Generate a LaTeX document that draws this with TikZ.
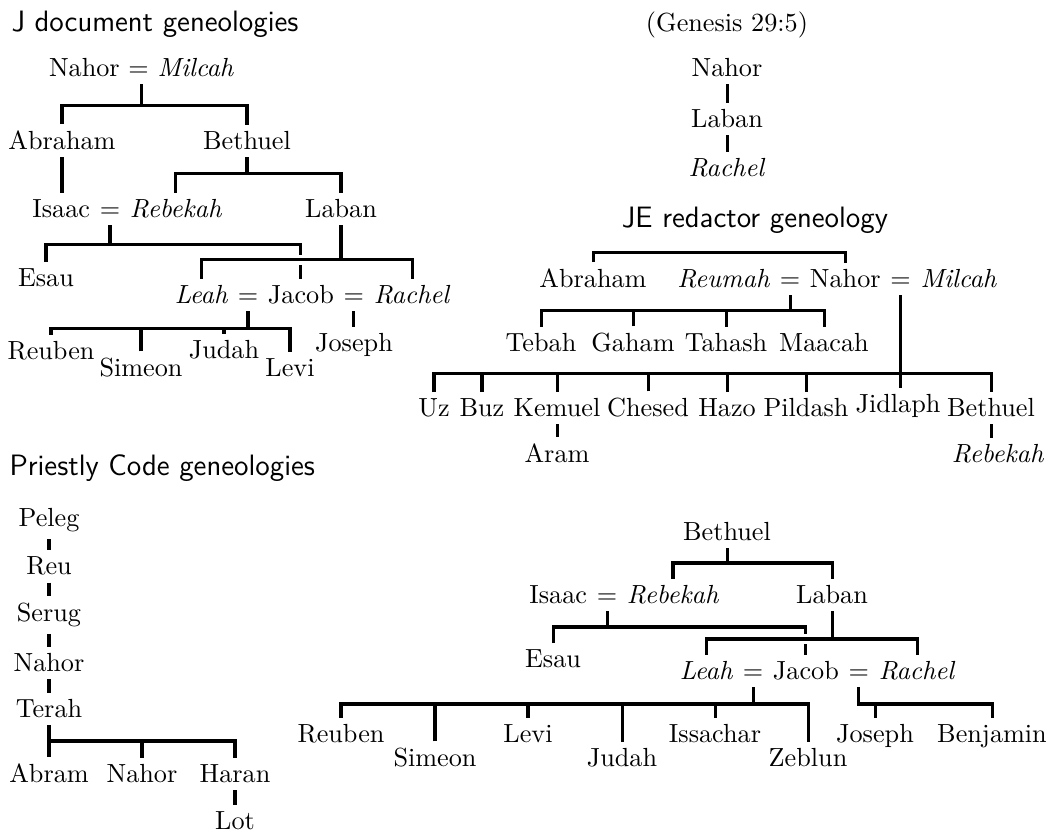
\documentclass[tikz,border=0pt]{standalone}
\begin{document}
\begin{tikzpicture}[x=0.381679pt, y=-0.381679pt,
  nm/.style={anchor=base, inner xsep=0pt, inner ysep=2.5pt},
  lft/.style={anchor=base east, inner xsep=0pt, inner ysep=2.5pt},
  rgt/.style={anchor=base west, inner xsep=0pt, inner ysep=2.5pt},
  ttl/.style={anchor=base west, inner sep=0pt, font=\sffamily\fontsize{11.25}{13}\selectfont},
  ln/.style={line width=1.15pt},
  gap/.style={preaction={draw=white, line width=3.6pt}}]
\useasboundingbox (0,0) rectangle (1048,834);

% ---------------- J document ----------------
\node[ttl] (tJ) at (11,32) {J document geneologies};
\node[nm] (jNM) at (141.5,77) {Nahor $=$ \textit{Milcah}};
\node[nm] (jAbraham) at (62,150) {Abraham};
\node[nm] (jBethuel) at (247,150) {Bethuel};
\node[nm] (jeqIR) at (110,218) {$=$};
\node[lft] (jIsaac) at ([xshift=-3.333pt]jeqIR.base west) {Isaac};
\node[rgt] (jRebekah) at ([xshift=3.333pt]jeqIR.base east) {\textit{Rebekah}};
\node[nm] (jLaban) at (341,218) {Laban};
\node[nm] (jEsau) at (46,287) {Esau};
\node[nm] (jeqLJ) at (248,304) {$=$};
\node[lft] (jLeah) at ([xshift=-3.333pt]jeqLJ.base west) {\textit{Leah}};
\node[rgt] (jJacob) at ([xshift=3.333pt]jeqLJ.base east) {Jacob};
\node[rgt] (jeqJR) at ([xshift=3.333pt]jJacob.base east) {$=$};
\node[rgt] (jRachel) at ([xshift=3.333pt]jeqJR.base east) {\textit{Rachel}};
\node[nm] (jReuben) at (51,360) {Reuben};
\node[nm] (jSimeon) at (141,377) {Simeon};
\node[nm] (jJudah) at (224,359) {Judah};
\node[nm] (jLevi) at (290,377) {Levi};
\node[nm] (jJoseph) at (354,352) {Joseph};

\draw[ln] (jAbraham.north) |- (jNM.south |- 0,106) -| (jBethuel.north)
          (jNM.south) -- (jNM.south |- 0,106);
\draw[ln] (jAbraham.south) -- (jAbraham.south |- jIsaac.north);
\draw[ln] (jRebekah.north) |- (jBethuel.south |- 0,174) -| (jLaban.north)
          (jBethuel.south) -- (jBethuel.south |- 0,174);
\draw[ln] (jEsau.north) |- (jeqIR.south |- 0,245) -| (jJacob.north)
          (jeqIR.south) -- (jeqIR.south |- 0,245);
\draw[ln,gap] (jLeah.north) |- (jLaban.south |- 0,260) -| (jRachel.north)
          (jLaban.south) -- (jLaban.south |- 0,260);
\draw[ln] (jReuben.north) |- (jeqLJ.south |- 0,329) -| (jLevi.north)
          (jeqLJ.south) -- (jeqLJ.south |- 0,329)
          (jSimeon.north) -- (jSimeon.north |- 0,329)
          (jJudah.north) -- (jJudah.north |- 0,329);
\draw[ln] (jeqJR.south) -- (jeqJR.south |- jJoseph.north);

% ---------------- Genesis 29:5 ----------------
\node[nm] (gTitle) at (727,32) {(Genesis 29:5)};
\node[nm] (gNahor) at (727,77) {Nahor};
\node[nm] (gLaban) at (727,128) {Laban};
\node[nm] (gRachel) at (727,177) {\textit{Rachel}};
\draw[ln] (gNahor.south) -- (gNahor.south |- gLaban.north);
\draw[ln] (gLaban.south) -- (gLaban.south |- gRachel.north);

% ---------------- JE redactor ----------------
\node[ttl, anchor=base] (tJE) at (755,228) {JE redactor geneology};
\node[nm] (jeAbraham) at (593,288) {Abraham};
\node[nm] (jeqRN) at (790,288) {$=$};
\node[lft] (jeReumah) at ([xshift=-3.333pt]jeqRN.base west) {\textit{Reumah}};
\node[rgt] (jeNahor) at ([xshift=3.333pt]jeqRN.base east) {Nahor};
\node[rgt] (jeqNM) at ([xshift=3.333pt]jeNahor.base east) {$=$};
\node[rgt] (jeMilcah) at ([xshift=3.333pt]jeqNM.base east) {\textit{Milcah}};
\node[nm] (jeTebah) at (541,352) {Tebah};
\node[nm] (jeGaham) at (633,352) {Gaham};
\node[nm] (jeTahash) at (726,352) {Tahash};
\node[nm] (jeMaacah) at (824,352) {Maacah};
\node[nm] (jeUz) at (434,417) {Uz};
\node[nm] (jeBuz) at (482,417) {Buz};
\node[nm] (jeKemuel) at (557,417) {Kemuel};
\node[nm] (jeChesed) at (648,417) {Chesed};
\node[nm] (jeHazo) at (727,417) {Hazo};
\node[nm] (jePildash) at (806,417) {Pildash};
\node[nm] (jeJidlaph) at (898,413) {Jidlaph};
\node[nm] (jeBethuel) at (991,417) {Bethuel};
\node[nm] (jeAram) at (557,463) {Aram};
\node[nm] (jeRebekah) at (998,463) {\textit{Rebekah}};

\draw[ln] (jeAbraham.north) -- (jeAbraham.north |- 0,253) -| (jeNahor.north);
\draw[ln] (jeTebah.north) |- (jeqRN.south |- 0,311) -| (jeMaacah.north)
          (jeqRN.south) -- (jeqRN.south |- 0,311)
          (jeGaham.north) -- (jeGaham.north |- 0,311)
          (jeTahash.north) -- (jeTahash.north |- 0,311);
\draw[ln] (jeUz.north) |- (jeqNM.south |- 0,374) -| (jeBethuel.north)
          (jeqNM.south) -- (jeqNM.south |- jeJidlaph.north)
          (jeBuz.north) -- (jeBuz.north |- 0,374)
          (jeKemuel.north) -- (jeKemuel.north |- 0,374)
          (jeChesed.north) -- (jeChesed.north |- 0,374)
          (jeHazo.north) -- (jeHazo.north |- 0,374)
          (jePildash.north) -- (jePildash.north |- 0,374);
\draw[ln] (jeKemuel.south) -- (jeKemuel.south |- jeAram.north);
\draw[ln] (jeBethuel.south) -- (jeBethuel.south |- jeRebekah.north);

% ---------------- Priestly Code ----------------
\node[ttl] (tP) at (9,476) {Priestly Code geneologies};
\node[nm] (pPeleg) at (49,527) {Peleg};
\node[nm] (pReu) at (49,575) {Reu};
\node[nm] (pSerug) at (49,622) {Serug};
\node[nm] (pNahor) at (49,672) {Nahor};
\node[nm] (pTerah) at (49,718) {Terah};
\node[nm] (pAbram) at (49,783) {Abram};
\node[nm] (pNahorII) at (142,783) {Nahor};
\node[nm] (pHaran) at (235,783) {Haran};
\node[nm] (pLot) at (235,830) {Lot};
\draw[ln] (pPeleg.south) -- (pPeleg.south |- pReu.north);
\draw[ln] (pReu.south) -- (pReu.south |- pSerug.north);
\draw[ln] (pSerug.south) -- (pSerug.south |- pNahor.north);
\draw[ln] (pNahor.south) -- (pNahor.south |- pTerah.north);
\draw[ln] (pTerah.south) -- (pTerah.south |- pAbram.north)
          (pTerah.south |- 0,741) -| (pHaran.north)
          (pNahorII.north) -- (pNahorII.north |- 0,741);
\draw[ln] (pHaran.south) -- (pHaran.south |- pLot.north);

% ---------------- Priestly tree (right) ----------------
\node[nm] (bBethuel) at (727,541) {Bethuel};
\node[nm] (beqIR) at (607,604) {$=$};
\node[lft] (bIsaac) at ([xshift=-3.333pt]beqIR.base west) {Isaac};
\node[rgt] (bRebekah) at ([xshift=3.333pt]beqIR.base east) {\textit{Rebekah}};
\node[nm] (bLaban) at (832,604) {Laban};
\node[nm] (bEsau) at (553,668) {Esau};
\node[nm] (beqLJ) at (753,680) {$=$};
\node[lft] (bLeah) at ([xshift=-3.333pt]beqLJ.base west) {\textit{Leah}};
\node[rgt] (bJacob) at ([xshift=3.333pt]beqLJ.base east) {Jacob};
\node[rgt] (beqJR) at ([xshift=3.333pt]bJacob.base east) {$=$};
\node[rgt] (bRachel) at ([xshift=3.333pt]beqJR.base east) {\textit{Rachel}};
\node[nm] (bReuben) at (341,743) {Reuben};
\node[nm] (bSimeon) at (435,767) {Simeon};
\node[nm] (bLevi) at (528,743) {Levi};
\node[nm] (bJudah) at (622,767) {Judah};
\node[nm] (bIssachar) at (715,743) {Issachar};
\node[nm] (bZeblun) at (808,767) {Zeblun};
\node[nm] (bJoseph) at (875,743) {Joseph};
\node[nm] (bBenjamin) at (992,743) {Benjamin};

\draw[ln] (bRebekah.north) |- (bBethuel.south |- 0,563) -| (bLaban.north)
          (bBethuel.south) -- (bBethuel.south |- 0,563);
\draw[ln] (bEsau.north) |- (beqIR.south |- 0,627) -| (bJacob.north)
          (beqIR.south) -- (beqIR.south |- 0,627);
\draw[ln,gap] (bLeah.north) |- (bLaban.south |- 0,639) -| (bRachel.north)
          (bLaban.south) -- (bLaban.south |- 0,639);
\draw[ln] (bReuben.north) |- (beqLJ.south |- 0,704) -| (bZeblun.north)
          (beqLJ.south) -- (beqLJ.south |- 0,704)
          (bSimeon.north) -- (bSimeon.north |- 0,704)
          (bLevi.north) -- (bLevi.north |- 0,704)
          (bJudah.north) -- (bJudah.north |- 0,704)
          (bIssachar.north) -- (bIssachar.north |- 0,704);
\draw[ln] (beqJR.south) |- (bBenjamin.north |- 0,704) -- (bBenjamin.north)
          (bJoseph.north) -- (bJoseph.north |- 0,704);
\end{tikzpicture}
\end{document}
